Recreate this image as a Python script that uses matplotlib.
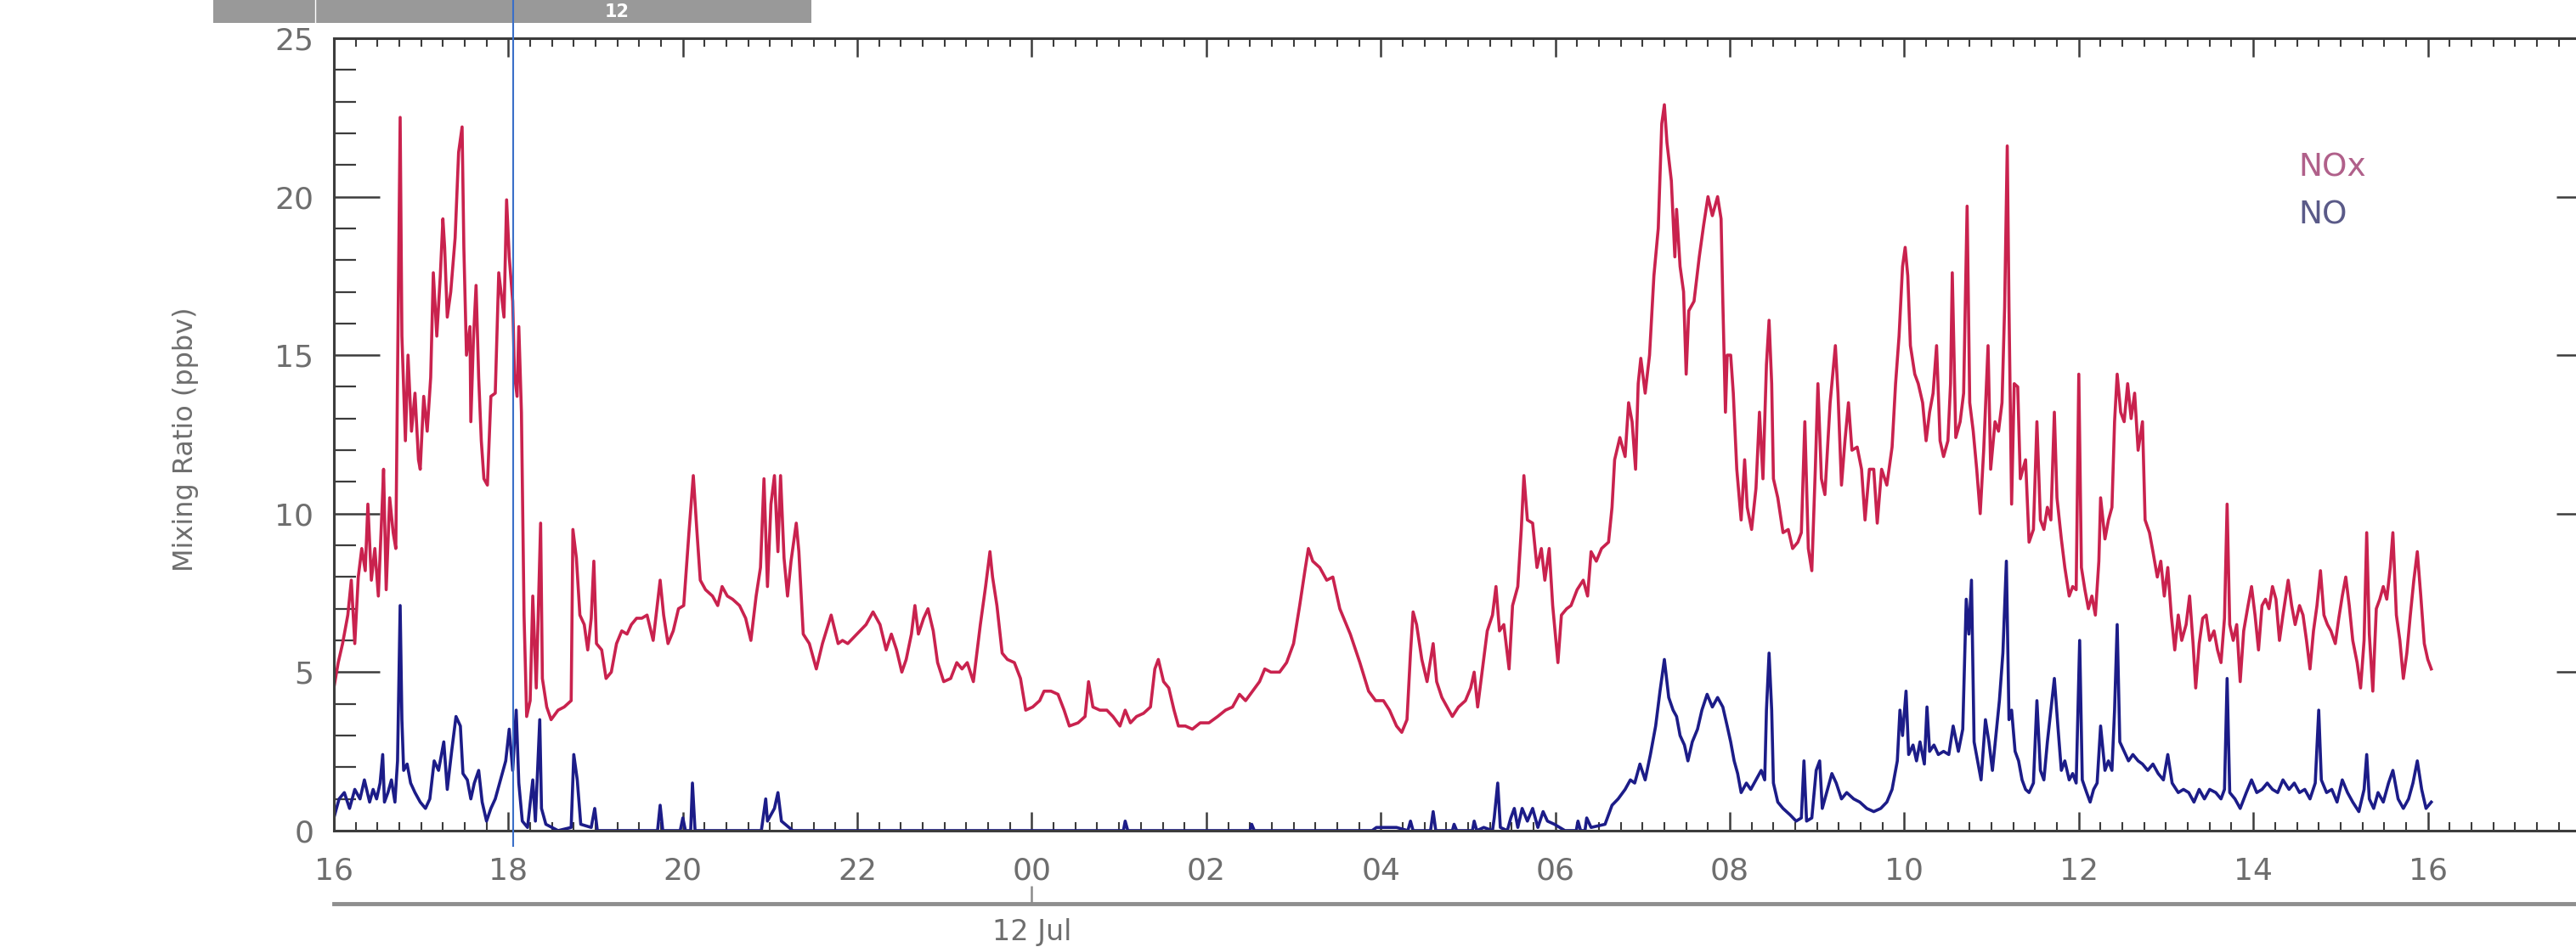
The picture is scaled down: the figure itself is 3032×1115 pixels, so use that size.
import matplotlib
matplotlib.use("Agg")
import matplotlib.pyplot as plt
from matplotlib.lines import Line2D
from matplotlib.patches import Rectangle
from matplotlib.ticker import MultipleLocator

# hours since 16:00 on 11 Jul, values in ppbv
nox_hours = [0.00, 0.05, 0.10, 0.16, 0.20, 0.24, 0.28, 0.32, 0.36, 0.39, 0.43, 0.47, 0.51, 0.55, 0.57,
             0.60, 0.64, 0.68, 0.71, 0.73, 0.76, 0.78, 0.82, 0.85, 0.89, 0.93, 0.97, 0.99, 1.03, 1.07,
             1.11, 1.14, 1.18, 1.22, 1.25, 1.27, 1.30, 1.34, 1.39, 1.43, 1.47, 1.49, 1.52, 1.56, 1.57,
             1.60, 1.63, 1.66, 1.69, 1.72, 1.76, 1.80, 1.85, 1.89, 1.95, 1.98, 2.01, 2.05, 2.07, 2.10,
             2.12, 2.15, 2.18, 2.21, 2.25, 2.28, 2.32, 2.37, 2.39, 2.44, 2.49, 2.57, 2.64, 2.72, 2.74,
             2.78, 2.82, 2.87, 2.91, 2.95, 2.98, 3.01, 3.07, 3.12, 3.18, 3.24, 3.30, 3.36, 3.41, 3.47,
             3.53, 3.59, 3.66, 3.74, 3.78, 3.83, 3.89, 3.95, 4.01, 4.07, 4.12, 4.16, 4.20, 4.26, 4.34,
             4.40, 4.45, 4.51, 4.57, 4.65, 4.72, 4.78, 4.84, 4.89, 4.93, 4.97, 5.01, 5.05, 5.09, 5.12,
             5.16, 5.20, 5.24, 5.30, 5.33, 5.38, 5.45, 5.53, 5.60, 5.70, 5.78, 5.83, 5.89,
             6.03, 6.10, 6.18, 6.26, 6.33, 6.39, 6.45, 6.51, 6.56, 6.62, 6.66, 6.70, 6.76, 6.81, 6.87,
             6.92, 6.99, 7.07, 7.14, 7.20, 7.26, 7.33, 7.41, 7.47, 7.52, 7.55, 7.60, 7.66, 7.72, 7.80,
             7.87, 7.93, 8.01, 8.09, 8.14, 8.22, 8.30, 8.37, 8.43, 8.53, 8.61, 8.65, 8.70, 8.78, 8.86,
             8.93, 9.01, 9.07, 9.13, 9.20, 9.28, 9.36, 9.41, 9.45, 9.51, 9.57, 9.63, 9.68, 9.76, 9.84,
             9.93, 10.03, 10.13, 10.22, 10.30, 10.38, 10.45, 10.53, 10.61, 10.67, 10.74, 10.84, 10.92,
             11.00, 11.07, 11.13, 11.17, 11.22, 11.30, 11.38, 11.45, 11.53, 11.65, 11.76, 11.86, 11.94,
             12.03, 12.10, 12.18, 12.24, 12.30, 12.34, 12.37, 12.41, 12.47, 12.53, 12.60, 12.64, 12.70,
             12.76, 12.82, 12.89, 12.97, 13.03, 13.07, 13.11, 13.16, 13.22, 13.28, 13.32, 13.36, 13.41,
             13.47, 13.51, 13.57, 13.61, 13.64, 13.68, 13.74, 13.79, 13.84, 13.88, 13.93, 13.97, 14.03,
             14.07, 14.13, 14.18, 14.25, 14.32, 14.37, 14.41, 14.47, 14.53, 14.61, 14.65, 14.68, 14.74,
             14.80, 14.84, 14.88, 14.92, 14.95, 14.98, 15.03, 15.08, 15.13, 15.18, 15.22, 15.25, 15.28,
             15.33, 15.37, 15.39, 15.43, 15.47, 15.50, 15.53, 15.59, 15.65, 15.70, 15.75, 15.80, 15.86,
             15.90, 15.92, 15.95, 15.97, 16.01, 16.04, 16.08, 16.13, 16.17, 16.20, 16.25, 16.30, 16.34,
             16.38, 16.42, 16.45, 16.48, 16.50, 16.55, 16.61, 16.67, 16.72, 16.78, 16.82, 16.86, 16.90,
             16.94, 16.98, 17.01, 17.05, 17.09, 17.15, 17.21, 17.24, 17.28, 17.32, 17.36, 17.40, 17.46,
             17.51, 17.55, 17.60, 17.65, 17.69, 17.74, 17.80, 17.86, 17.90, 17.94, 17.98,
             18.01, 18.04, 18.07, 18.12, 18.16, 18.21, 18.25, 18.29, 18.33, 18.37, 18.41, 18.45, 18.50,
             18.53, 18.55, 18.59, 18.64, 18.68, 18.72, 18.75, 18.79, 18.83, 18.87, 18.91, 18.96, 18.99,
             19.04, 19.08, 19.12, 19.15, 19.18, 19.20, 19.23, 19.26, 19.30, 19.33, 19.39, 19.43, 19.48,
             19.52, 19.56, 19.60, 19.64, 19.68, 19.72, 19.75, 19.80, 19.84, 19.89, 19.93, 19.97, 20.00,
             20.03, 20.07, 20.11, 20.15, 20.19, 20.23, 20.25, 20.30, 20.34, 20.38, 20.41, 20.44, 20.48,
             20.52, 20.56, 20.60, 20.64, 20.68, 20.73, 20.76, 20.81, 20.85, 20.90, 20.94, 20.98, 21.02,
             21.06, 21.10, 21.14, 21.18, 21.23, 21.27, 21.31, 21.34, 21.38, 21.42, 21.46, 21.50, 21.55,
             21.59, 21.63, 21.67, 21.70, 21.73, 21.77, 21.81, 21.85, 21.89, 21.94, 21.98, 22.02, 22.06,
             22.10, 22.14, 22.18, 22.22, 22.26, 22.30, 22.34, 22.40, 22.44, 22.48, 22.53, 22.57, 22.61,
             22.65, 22.69, 22.73, 22.77, 22.81, 22.85, 22.89, 22.94, 22.98, 23.02, 23.06, 23.10, 23.14,
             23.19, 23.23, 23.27, 23.30, 23.33, 23.37, 23.41, 23.45, 23.49, 23.53, 23.57, 23.60, 23.64,
             23.68, 23.72, 23.76, 23.80, 23.84, 23.88, 23.92, 23.96, 24.00, 24.04]
nox_ppbv = [4.5, 5.3, 5.9, 6.8, 7.9, 5.9, 8.0, 8.9, 8.2, 10.3, 7.9, 8.9, 7.4, 10.0, 11.4,
            7.6, 10.5, 9.4, 8.9, 14.4, 22.5, 15.6, 12.3, 15.0, 12.6, 13.8, 11.7, 11.4, 13.7, 12.6,
            14.3, 17.6, 15.6, 17.5, 19.3, 18.4, 16.2, 17.0, 18.7, 21.4, 22.2, 18.4, 15.0, 15.9, 12.9,
            15.5, 17.2, 14.3, 12.3, 11.1, 10.9, 13.7, 13.8, 17.6, 16.2, 19.9, 18.1, 16.7, 14.4, 13.7,
            15.9, 13.2, 6.8, 3.6, 4.1, 7.4, 4.5, 9.7, 4.8, 3.9, 3.5, 3.8, 3.9, 4.1, 9.5,
            8.6, 6.8, 6.5, 5.7, 6.7, 8.5, 5.9, 5.7, 4.8, 5.0, 5.9, 6.3, 6.2, 6.5, 6.7,
            6.7, 6.8, 6.0, 7.9, 6.8, 5.9, 6.3, 7.0, 7.1, 9.4, 11.2, 9.5, 7.9, 7.6, 7.4,
            7.1, 7.7, 7.4, 7.3, 7.1, 6.7, 6.0, 7.4, 8.3, 11.1, 7.7, 10.3, 11.2, 8.8, 11.2,
            8.6, 7.4, 8.5, 9.7, 8.8, 6.2, 5.9, 5.1, 5.9, 6.8, 5.9, 6.0, 5.9,
            6.3, 6.5, 6.9, 6.5, 5.7, 6.2, 5.7, 5.0, 5.4, 6.2, 7.1, 6.2, 6.7, 7.0, 6.3,
            5.3, 4.7, 4.8, 5.3, 5.1, 5.3, 4.7, 6.5, 7.7, 8.8, 8.0, 7.1, 5.6, 5.4, 5.3,
            4.8, 3.8, 3.9, 4.1, 4.4, 4.4, 4.3, 3.8, 3.3, 3.4, 3.6, 4.7, 3.9, 3.8, 3.8,
            3.6, 3.3, 3.8, 3.4, 3.6, 3.7, 3.9, 5.1, 5.4, 4.7, 4.5, 3.8, 3.3, 3.3, 3.2,
            3.4, 3.4, 3.6, 3.8, 3.9, 4.3, 4.1, 4.4, 4.7, 5.1, 5.0, 5.0, 5.3,
            5.9, 7.1, 8.2, 8.9, 8.5, 8.3, 7.9, 8.0, 7.0, 6.2, 5.3, 4.4, 4.1,
            4.1, 3.8, 3.3, 3.1, 3.5, 5.6, 6.9, 6.5, 5.4, 4.7, 5.9, 4.7, 4.2,
            3.9, 3.6, 3.9, 4.1, 4.5, 5.0, 3.9, 5.0, 6.3, 6.8, 7.7, 6.3, 6.5,
            5.1, 7.1, 7.7, 9.5, 11.2, 9.8, 9.7, 8.3, 8.9, 7.9, 8.9, 7.1, 5.3,
            6.8, 7.0, 7.1, 7.6, 7.9, 7.4, 8.8, 8.5, 8.9, 9.1, 10.2, 11.7, 12.4,
            11.8, 13.5, 12.9, 11.4, 14.1, 14.9, 13.8, 15.0, 17.5, 19.0, 22.3, 22.9, 21.7,
            20.5, 18.1, 19.6, 17.8, 17.0, 14.4, 16.4, 16.7, 18.1, 19.1, 20.0, 19.4, 20.0,
            19.3, 16.7, 13.2, 15.0, 15.0, 13.8, 11.4, 9.8, 11.7, 10.2, 9.5, 10.8, 13.2,
            11.1, 14.7, 16.1, 14.1, 11.1, 10.5, 9.4, 9.5, 8.9, 9.1, 9.4, 12.9, 8.9,
            8.2, 11.4, 14.1, 11.1, 10.6, 13.5, 15.3, 13.8, 10.9, 12.3, 13.5, 12.0, 12.1,
            11.4, 9.8, 11.4, 11.4, 9.7, 11.4, 10.9, 12.1, 14.1, 15.6, 17.8,
            18.4, 17.5, 15.3, 14.4, 14.1, 13.5, 12.3, 13.2, 13.8, 15.3, 12.3, 11.8, 12.3,
            14.1, 17.6, 12.4, 12.9, 13.8, 19.7, 13.5, 12.6, 11.4, 10.0, 12.0, 15.3, 11.4,
            12.9, 12.6, 13.5, 16.5, 21.6, 16.5, 10.3, 14.1, 14.0, 11.1, 11.7, 9.1, 9.5,
            12.9, 9.8, 9.5, 10.2, 9.8, 13.2, 10.5, 9.2, 8.3, 7.4, 7.7, 7.6, 14.4,
            8.3, 7.6, 7.0, 7.4, 6.8, 8.5, 10.5, 9.2, 9.8, 10.2, 12.9, 14.4, 13.2,
            12.9, 14.1, 13.0, 13.8, 12.0, 12.9, 9.8, 9.4, 8.8, 8.0, 8.5, 7.4, 8.3,
            6.8, 5.7, 6.8, 6.0, 6.5, 7.4, 5.9, 4.5, 5.9, 6.7, 6.8, 6.0, 6.3,
            5.7, 5.3, 6.7, 10.3, 6.5, 6.0, 6.5, 4.7, 6.3, 7.1, 7.7, 6.8, 5.7,
            7.1, 7.3, 7.0, 7.7, 7.3, 6.0, 6.8, 7.9, 7.1, 6.5, 7.1, 6.8, 6.0,
            5.1, 6.3, 7.1, 8.2, 6.8, 6.5, 6.3, 5.9, 6.7, 7.4, 8.0, 7.1, 6.0,
            5.3, 4.5, 6.0, 9.4, 6.2, 4.4, 7.0, 7.3, 7.7, 7.3, 8.3, 9.4, 6.8,
            6.0, 4.8, 5.6, 6.8, 7.9, 8.8, 7.4, 5.9, 5.4, 5.1]

# NO: evening (16-22h), the quiet night, and the next morning/day
no_eve_hours = [0.00, 0.06, 0.12, 0.18, 0.24, 0.30, 0.35, 0.41, 0.45, 0.49, 0.53, 0.56, 0.58, 0.62,
                0.66, 0.70, 0.73, 0.76, 0.78, 0.80, 0.84, 0.88, 0.93, 0.99, 1.05, 1.10, 1.15, 1.20,
                1.26, 1.30, 1.35, 1.40, 1.45, 1.48, 1.53, 1.57, 1.61, 1.66, 1.70, 1.75, 1.80, 1.85,
                1.91, 1.97, 2.01, 2.05, 2.09, 2.12, 2.16, 2.22, 2.28, 2.31, 2.36, 2.38, 2.43, 2.57,
                2.72, 2.75, 2.79, 2.83, 2.95, 2.99, 3.02,
                3.71, 3.74, 3.77, 3.97, 4.00, 4.03, 4.09, 4.11, 4.14,
                4.90, 4.95, 4.97, 5.05, 5.09, 5.13, 5.26, 5.89]
no_eve_ppbv = [0.4, 1.0, 1.2, 0.7, 1.3, 1.0, 1.6, 0.9, 1.3, 1.0, 1.5, 2.4, 0.9, 1.2,
               1.6, 0.9, 2.2, 7.1, 3.5, 1.9, 2.1, 1.5, 1.2, 0.9, 0.7, 1.0, 2.2, 1.9,
               2.8, 1.3, 2.5, 3.6, 3.3, 1.8, 1.6, 1.0, 1.5, 1.9, 0.9, 0.3, 0.7, 1.0,
               1.6, 2.2, 3.2, 1.9, 3.8, 1.5, 0.3, 0.1, 1.6, 0.3, 3.5, 0.7, 0.2, 0.0,
               0.1, 2.4, 1.6, 0.2, 0.1, 0.7, 0.0,
               0.0, 0.8, 0.0, 0.0, 0.4, 0.0, 0.0, 1.5, 0.0,
               0.0, 1.0, 0.3, 0.7, 1.2, 0.3, 0.0, 0.0]

no_night_hours = [7.00, 8.00, 9.05, 9.07, 9.10, 10.50, 10.52, 10.55, 11.90]
no_night_ppbv = [0.0, 0.0, 0.0, 0.3, 0.0, 0.0, 0.2, 0.0, 0.0]

no_day_hours = [11.95, 12.18, 12.31, 12.34, 12.37, 12.57, 12.60, 12.63, 12.82, 12.84,
                12.87, 13.05, 13.07, 13.10, 13.18, 13.28, 13.30, 13.34, 13.37, 13.45,
                13.49, 13.53, 13.57, 13.62, 13.68, 13.74, 13.80, 13.86, 13.91, 13.99,
                14.11, 14.24, 14.26, 14.29, 14.34, 14.36, 14.41, 14.57,
                14.65, 14.72, 14.80, 14.86, 14.91, 14.97, 15.03, 15.09,
                15.15, 15.20, 15.25, 15.30, 15.35, 15.39, 15.43, 15.48, 15.52, 15.57, 15.63, 15.68,
                15.74, 15.80, 15.86, 15.92, 15.97, 16.01, 16.05, 16.09, 16.13, 16.19, 16.24, 16.30,
                16.36, 16.40, 16.42, 16.45, 16.48, 16.50, 16.55, 16.61, 16.69, 16.76, 16.82, 16.85,
                16.88, 16.94, 16.99, 17.03, 17.06, 17.11, 17.17, 17.22, 17.28, 17.34, 17.42, 17.49,
                17.57, 17.65, 17.73, 17.80, 17.86, 17.92, 17.95, 17.98, 18.02, 18.05, 18.10, 18.14,
                18.18, 18.23, 18.26, 18.29, 18.34, 18.39, 18.45, 18.51, 18.56, 18.62, 18.67, 18.71,
                18.74, 18.77, 18.80, 18.84, 18.88, 18.93, 18.97, 19.01, 19.05, 19.09, 19.13, 19.17,
                19.20, 19.23, 19.27, 19.31, 19.35, 19.39, 19.43, 19.48, 19.52, 19.56, 19.60, 19.64,
                19.68, 19.72, 19.76, 19.80, 19.84, 19.89, 19.93, 19.97, 20.01, 20.04, 20.09, 20.13,
                20.17, 20.21, 20.25, 20.30, 20.34, 20.38, 20.41, 20.44, 20.47, 20.52, 20.57, 20.62,
                20.68, 20.73, 20.79, 20.85, 20.91, 20.97, 21.02, 21.07, 21.14, 21.20, 21.26, 21.32,
                21.38, 21.44, 21.50, 21.57, 21.63, 21.67, 21.70, 21.73, 21.79, 21.85, 21.92, 21.98,
                22.04, 22.10, 22.16, 22.22, 22.28, 22.34, 22.41, 22.47, 22.53, 22.59, 22.65, 22.71,
                22.75, 22.78, 22.84, 22.90, 22.96, 23.02, 23.08, 23.14, 23.21, 23.27, 23.30, 23.33,
                23.38, 23.43, 23.49, 23.55, 23.60, 23.66, 23.72, 23.78, 23.83, 23.88, 23.93, 23.98,
                24.04]
no_day_ppbv = [0.1, 0.1, 0.0, 0.3, 0.0, 0.0, 0.6, 0.0, 0.0, 0.2,
               0.0, 0.0, 0.3, 0.0, 0.1, 0.0, 0.4, 1.5, 0.1, 0.0,
               0.4, 0.7, 0.1, 0.7, 0.3, 0.7, 0.1, 0.6, 0.3, 0.2,
               0.0, 0.0, 0.3, 0.0, 0.0, 0.4, 0.1, 0.2,
               0.8, 1.0, 1.3, 1.6, 1.5, 2.1, 1.6, 2.4,
               3.3, 4.4, 5.4, 4.2, 3.8, 3.6, 3.0, 2.7, 2.2, 2.8, 3.2, 3.8,
               4.3, 3.9, 4.2, 3.9, 3.3, 2.8, 2.2, 1.8, 1.2, 1.5, 1.3, 1.6,
               1.9, 1.6, 3.8, 5.6, 3.8, 1.5, 0.9, 0.7, 0.5, 0.3, 0.4, 2.2,
               0.3, 0.4, 1.9, 2.2, 0.7, 1.2, 1.8, 1.5, 1.0, 1.2, 1.0, 0.9,
               0.7, 0.6, 0.7, 0.9, 1.3, 2.2, 3.8, 3.0, 4.4, 2.4, 2.7, 2.2,
               2.8, 2.1, 3.9, 2.5, 2.7, 2.4, 2.5, 2.4, 3.3, 2.5, 3.2, 7.3,
               6.2, 7.9, 2.8, 2.2, 1.6, 3.5, 2.8, 1.9, 3.0, 4.1, 5.6, 8.5,
               3.5, 3.8, 2.5, 2.2, 1.6, 1.3, 1.2, 1.5, 4.1, 1.9, 1.6, 2.8,
               3.8, 4.8, 3.3, 1.9, 2.2, 1.6, 1.8, 1.5, 6.0, 1.6, 1.2, 0.9,
               1.3, 1.5, 3.3, 1.9, 2.2, 1.9, 3.8, 6.5, 2.8, 2.5, 2.2, 2.4,
               2.2, 2.1, 1.9, 2.1, 1.8, 1.6, 2.4, 1.5, 1.2, 1.3, 1.2, 0.9,
               1.3, 1.0, 1.3, 1.2, 1.0, 1.3, 4.8, 1.2, 1.0, 0.7, 1.2, 1.6,
               1.2, 1.3, 1.5, 1.3, 1.2, 1.6, 1.3, 1.5, 1.2, 1.3, 1.0, 1.5,
               3.8, 1.6, 1.2, 1.3, 0.9, 1.6, 1.2, 0.9, 0.6, 1.3, 2.4, 1.0,
               0.7, 1.2, 0.9, 1.5, 1.9, 1.0, 0.7, 1.0, 1.5, 2.2, 1.3, 0.7,
               0.9]

hour_ticks = [0, 2, 4, 6, 8, 10, 12, 14, 16, 18, 20, 22, 24, 26]
hour_labels = ["16", "18", "20", "22", "00", "02", "04", "06", "08", "10", "12", "14", "16", "18"]
day_tick = [8]
day_label = ["12 Jul"]
y_ticks = [0, 5, 10, 15, 20, 25]

no_hours = no_eve_hours + no_night_hours + no_day_hours
no_ppbv = no_eve_ppbv + no_night_ppbv + no_day_ppbv

axis_grey = "#3c3c3c"
text_grey = "#6e6e6e"

fig = plt.figure(figsize=(30.32, 11.15), dpi=100)
fig.patch.set_facecolor("white")

# axes runs on past the right edge, like the cropped screenshot
ax = fig.add_axes([0.1296, 0.1229, 0.8806, 0.8368])

ax.plot(nox_hours, nox_ppbv, color="#c9224e", lw=2.6)
ax.plot(no_hours, no_ppbv, color="#1c1c88", lw=2.6)

ax.set_xlim(0, 26)
ax.set_ylim(0, 25)
ax.set_xticks(hour_ticks, labels=hour_labels)
ax.set_yticks(y_ticks)
ax.xaxis.set_minor_locator(MultipleLocator(0.25))
ax.yaxis.set_minor_locator(MultipleLocator(1))

for s in ax.spines.values():
    s.set_color(axis_grey)
    s.set_linewidth(2.2)

ax.tick_params(axis="both", which="both", direction="in", top=True, right=True,
               color=axis_grey, labelcolor=text_grey, labelsize=26)
ax.tick_params(axis="y", which="major", length=39, width=1.8, pad=17)
ax.tick_params(axis="y", which="minor", length=19, width=1.6)
ax.tick_params(axis="x", which="major", length=16, width=1.8, pad=22)
ax.tick_params(axis="x", which="minor", length=7, width=1.5)

ax.set_ylabel("Mixing Ratio (ppbv)", fontsize=23, color=text_grey, va="center")
ax.yaxis.set_label_coords(-0.0655, 0.494)

# labels standing in for a legend
ax.text(0.866, 0.837, "NOx", transform=ax.transAxes, fontsize=27, color="#b0608a", va="center")
ax.text(0.866, 0.777, "NO", transform=ax.transAxes, fontsize=27, color="#5a5a88", va="center")

# second date axis under the hour labels
sec = ax.secondary_xaxis(-0.0922)
sec.set_xticks(day_tick, labels=day_label)
sec.tick_params(direction="in", length=15, width=1.8, color="#8a8a8a",
                labelcolor=text_grey, labelsize=24, pad=12)
sec.spines["bottom"].set_color("#8e8e8e")
sec.spines["bottom"].set_linewidth(3.5)

# screenshot leftovers: grey tab bar and the blue cursor line
fig.add_artist(Rectangle((251 / 3032, 1 - 27 / 1115), 704 / 3032, 27 / 1115,
                         transform=fig.transFigure, color="#999999", lw=0))
fig.add_artist(Line2D([371 / 3032, 371 / 3032], [1 - 27 / 1115, 1.0],
                      transform=fig.transFigure, color="white", lw=1))
fig.text(726 / 3032, 1 - 14 / 1115, "12", color="white", fontsize=15,
         fontweight="bold", ha="center", va="center")
fig.add_artist(Line2D([604 / 3032, 604 / 3032], [1 - 996 / 1115, 1.0],
                      transform=fig.transFigure, color="#3a6fc8", lw=1.5))

fig.savefig("out.png", dpi=100)
plt.close(fig)
